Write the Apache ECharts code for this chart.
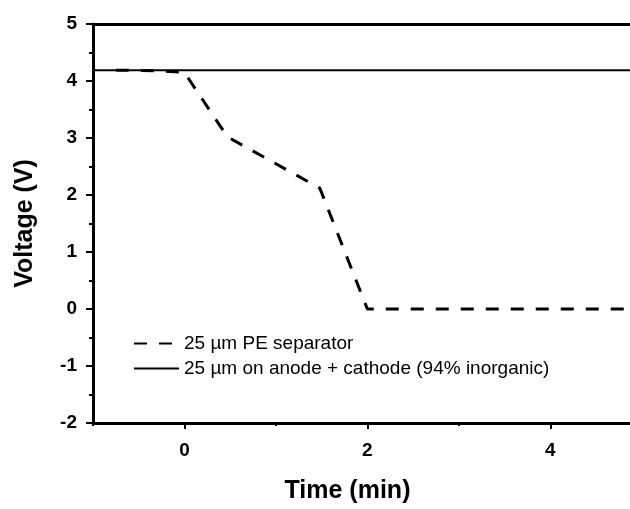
<!DOCTYPE html>
<html>
<head>
<meta charset="utf-8">
<script src="https://cdn.jsdelivr.net/npm/echarts@6/dist/echarts.min.js"></script>
<style>
  html, body { margin: 0; padding: 0; background: #fff; }
  #chart { width: 630px; height: 509px; }
</style>
</head>
<body>
<div id="chart"></div>
<script>
var seriesNames = ['25 \u00b5m PE separator', '25 \u00b5m on anode + cathode (94% inorganic)'];

// dashed curve (PE separator)
var peTime = [-0.75, -0.3, 0.0, 0.47, 1.48, 2.0, 5.0];
var peVoltage = [4.19, 4.18, 4.15, 3.02, 2.12, 0.0, 0.0];

// solid curve (coated electrodes)
var coatedTime = [-1, 5];
var coatedVoltage = [4.19, 4.19];

var xMajorTicks = [0, 2, 4];
var xMinorTicks = [-1, 1, 3];

function pairs(xs, ys) {
  return xs.map(function (x, i) { return [x, ys[i]]; });
}

var font = 'Liberation Sans, Arial, sans-serif';
var xMin = -1, xMax = 4.872;

var chart = echarts.init(document.getElementById('chart'));

chart.setOption({
  animation: false,
  textStyle: { fontFamily: font, color: '#000' },
  grid: { left: 93, right: 0, top: 24, bottom: 82, containLabel: false },
  legend: {
    orient: 'vertical',
    left: 128,
    top: 329,
    itemWidth: 45,
    itemHeight: 14,
    itemGap: 6,
    itemStyle: { opacity: 0 },
    textStyle: { fontSize: 19, color: '#000', fontFamily: font },
    data: seriesNames
  },
  xAxis: [{
    type: 'value',
    position: 'bottom',
    min: xMin,
    max: xMax,
    name: 'Time (min)',
    nameLocation: 'middle',
    nameGap: 56,
    nameTextStyle: { fontSize: 25, fontWeight: 'bold', color: '#000', fontFamily: font, padding: [0, 28, 0, 0] },
    axisLine: { onZero: false, lineStyle: { color: '#000', width: 3 } },
    axisTick: { customValues: xMajorTicks, length: 6, lineStyle: { color: '#000', width: 2 } },
    axisLabel: { customValues: xMajorTicks, fontSize: 19, fontWeight: 'bold', color: '#000', margin: 18, fontFamily: font },
    splitLine: { show: false }
  }, {
    type: 'value',
    position: 'bottom',
    min: xMin,
    max: xMax,
    axisLine: { show: false, onZero: false },
    axisTick: { customValues: xMinorTicks, length: 3, lineStyle: { color: '#000', width: 2 } },
    axisLabel: { show: false },
    splitLine: { show: false }
  }, {
    type: 'value',
    position: 'top',
    min: xMin,
    max: xMax,
    axisLine: { onZero: false, lineStyle: { color: '#000', width: 3 } },
    axisTick: { show: false },
    axisLabel: { show: false },
    splitLine: { show: false }
  }],
  yAxis: {
    type: 'value',
    min: -2,
    max: 5,
    interval: 1,
    name: 'Voltage (V)',
    nameLocation: 'middle',
    nameGap: 55,
    nameTextStyle: { fontSize: 25, fontWeight: 'bold', color: '#000', fontFamily: font },
    axisLine: { show: true, onZero: false, lineStyle: { color: '#000', width: 3 } },
    axisTick: { length: 7, lineStyle: { color: '#000', width: 2 } },
    minorTick: { show: true, splitNumber: 2, length: 4, lineStyle: { color: '#000', width: 2 } },
    axisLabel: { fontSize: 19, fontWeight: 'bold', color: '#000', margin: 16, fontFamily: font },
    splitLine: { show: false },
    minorSplitLine: { show: false }
  },
  series: [{
    name: seriesNames[0],
    type: 'line',
    xAxisIndex: 0,
    data: pairs(peTime, peVoltage),
    symbol: 'none',
    showSymbol: false,
    clip: true,
    lineStyle: { color: '#000', width: 3, type: [13, 12] },
    itemStyle: { color: '#000' }
  }, {
    name: seriesNames[1],
    type: 'line',
    xAxisIndex: 0,
    data: pairs(coatedTime, coatedVoltage),
    symbol: 'none',
    showSymbol: false,
    clip: true,
    lineStyle: { color: '#000', width: 2, type: 'solid' },
    itemStyle: { color: '#000' }
  }]
});
</script>
</body>
</html>
